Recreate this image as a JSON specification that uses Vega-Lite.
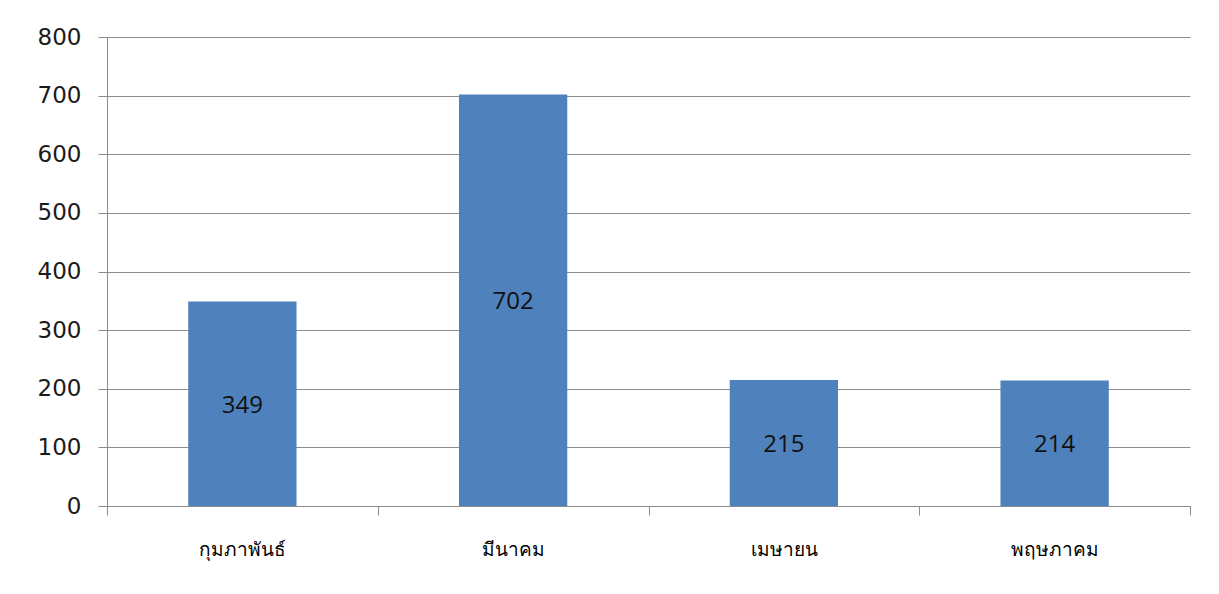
{
  "$schema": "https://vega.github.io/schema/vega-lite/v6.json",
  "autosize": {"type": "none"},
  "padding": {"left": 107, "top": 37, "right": 29, "bottom": 88},
  "width": 1083,
  "height": 469,
  "background": "white",
  "data": {
    "values": [
      {"month": "กุมภาพันธ์", "count": 349},
      {"month": "มีนาคม", "count": 702},
      {"month": "เมษายน", "count": 215},
      {"month": "พฤษภาคม", "count": 214}
    ]
  },
  "encoding": {
    "x": {
      "field": "month",
      "type": "nominal",
      "sort": null,
      "scale": {"paddingInner": 0, "paddingOuter": 0},
      "axis": {
        "title": null,
        "labelAngle": 0,
        "tickBand": "extent",
        "tickSize": 9,
        "tickColor": "#8c8c8c",
        "domainColor": "#8c8c8c",
        "labelFont": "DejaVu Sans",
        "labelFontSize": 19,
        "labelColor": "#000000",
        "labelPadding": 25,
        "grid": false
      }
    }
  },
  "layer": [
    {
      "mark": {"type": "bar", "color": "#4f81bd", "width": {"band": 0.4}},
      "encoding": {
        "y": {
          "field": "count",
          "type": "quantitative",
          "scale": {"domain": [0, 800], "nice": false},
          "axis": {
            "title": null,
            "values": [0, 100, 200, 300, 400, 500, 600, 700, 800],
            "tickSize": 9,
            "tickColor": "#8c8c8c",
            "domainColor": "#8c8c8c",
            "gridColor": "#8c8c8c",
            "labelFont": "DejaVu Sans",
            "labelFontSize": 23,
            "labelColor": "#1a1a1a",
            "labelPadding": 17
          }
        }
      }
    },
    {
      "mark": {"type": "text", "font": "Open Sans", "fontSize": 24, "color": "#111111", "baseline": "middle", "dy": 2},
      "encoding": {
        "y": {
          "field": "count",
          "type": "quantitative",
          "scale": {"domain": [0, 1600], "nice": false},
          "axis": null
        },
        "text": {"field": "count", "type": "quantitative"}
      }
    }
  ],
  "resolve": {"scale": {"y": "independent"}},
  "config": {
    "view": {"stroke": null},
    "axis": {"gridOpacity": 1, "domainWidth": 1, "tickWidth": 1}
  }
}
